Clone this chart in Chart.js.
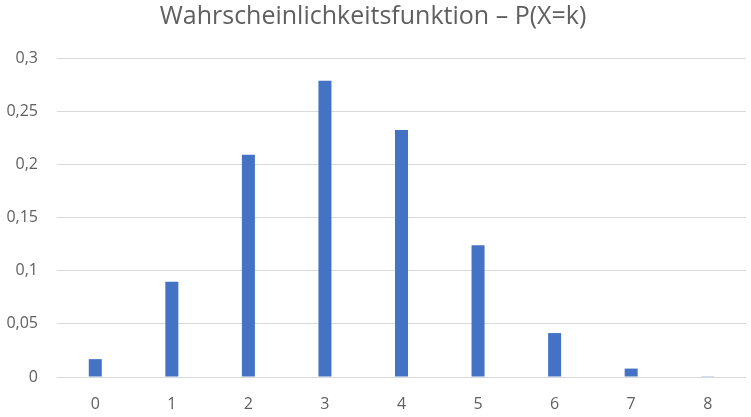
<!DOCTYPE html>
<html>
<head>
<meta charset="utf-8">
<script src="https://cdn.jsdelivr.net/npm/chart.js@4.4.0/dist/chart.umd.min.js"></script>
<style>
  html, body { margin: 0; padding: 0; background: #fff; }
  #wrap { width: 751px; height: 417px; }
</style>
</head>
<body>
<div id="wrap"><canvas id="pmfChart"></canvas></div>
<script>
// Wahrscheinlichkeitsfunktion, values
const kLabels = ['0', '1', '2', '3', '4', '5', '6', '7', '8'];
const probValues = [0.0168, 0.0896, 0.209, 0.2787, 0.2322, 0.1239, 0.0413, 0.0079, 0.0007];
const titleText = 'Wahrscheinlichkeitsfunktion \u2013 P(X=k)';

const textColor = '#5f5f5f';
const fontFamily = '"Open Sans", "Liberation Sans", sans-serif';

new Chart(document.getElementById('pmfChart'), {
  type: 'bar',
  data: {
    labels: kLabels,
    datasets: [{
      data: probValues,
      backgroundColor: '#4472C4',
      borderWidth: 0,
      barPercentage: 0.17,
      categoryPercentage: 1
    }]
  },
  options: {
    responsive: true,
    maintainAspectRatio: false,
    animation: false,
    layout: { padding: { left: 0, right: 5, top: 0, bottom: 0 } },
    plugins: {
      legend: { display: false },
      tooltip: { enabled: false },
      title: {
        display: true,
        text: titleText,
        color: textColor,
        font: { family: fontFamily, size: 25, weight: 'normal' },
        padding: { top: 2, bottom: 26 }
      }
    },
    scales: {
      x: {
        grid: { display: false },
        border: { display: false },
        ticks: {
          color: textColor,
          font: { family: fontFamily, size: 16 },
          padding: 10
        },
        afterFit: (scale) => { scale.height = 40; }
      },
      y: {
        min: 0,
        max: 0.3,
        grid: { color: '#d9d9d9', drawTicks: false },
        border: { display: false },
        ticks: {
          stepSize: 0.05,
          color: textColor,
          font: { family: fontFamily, size: 16 },
          padding: 19,
          callback: (value) => String(+value.toFixed(2)).replace('.', ',')
        },
        afterFit: (scale) => { scale.width = 57; }
      }
    }
  }
});
</script>
</body>
</html>
